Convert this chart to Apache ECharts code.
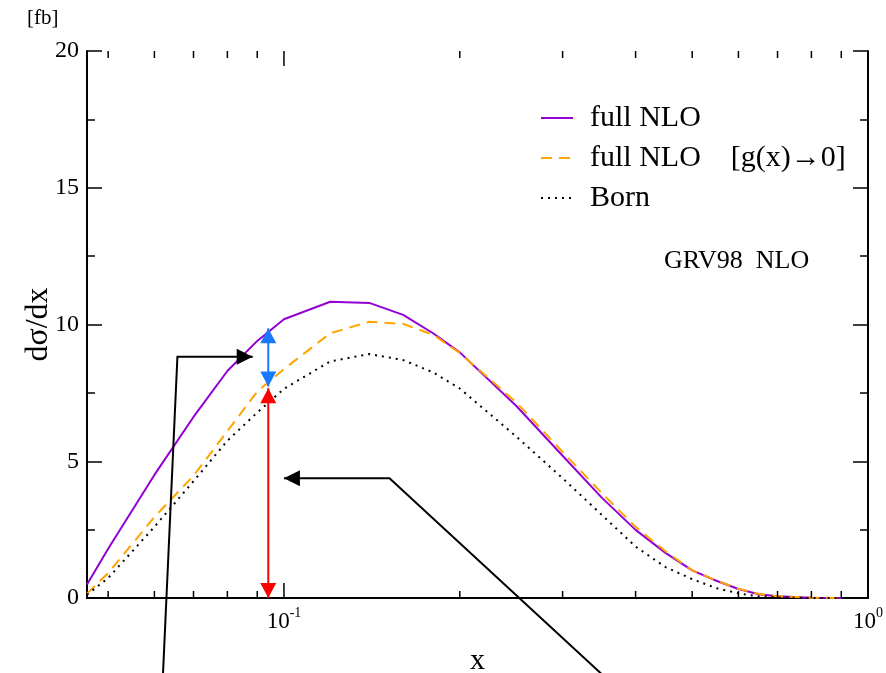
<!DOCTYPE html>
<html>
<head>
<meta charset="utf-8">
<script src="https://cdn.jsdelivr.net/npm/echarts@6/dist/echarts.min.js"></script>
<style>
  html, body { margin: 0; padding: 0; background: #fff; }
  #chart { width: 886px; height: 673px; }
</style>
</head>
<body>
<div id="chart"></div>
<script>
// Momentum fraction x (log scale) and dσ/dx [fb] for the three calculations
const xValues  = [0.046, 0.05, 0.06, 0.07, 0.08, 0.09, 0.1, 0.12, 0.14, 0.16, 0.18, 0.2, 0.25, 0.3, 0.35, 0.4, 0.45, 0.5, 0.55, 0.6, 0.65, 0.7, 0.8, 0.9];
const fullNLO  = [0.49, 1.80, 4.50, 6.62, 8.30, 9.40, 10.19, 10.83, 10.79, 10.35, 9.68, 8.98, 7.02, 5.20, 3.67, 2.49, 1.65, 1.01, 0.63, 0.33, 0.14, 0.06, 0.01, 0.00];
const gluonOff = [0.16, 0.91, 2.96, 4.47, 6.10, 7.55, 8.37, 9.68, 10.10, 10.02, 9.63, 8.96, 7.15, 5.34, 3.84, 2.60, 1.71, 1.01, 0.64, 0.34, 0.15, 0.06, 0.01, 0.00];
const born     = [0.12, 0.73, 2.60, 4.27, 5.75, 6.78, 7.65, 8.65, 8.92, 8.70, 8.25, 7.66, 5.90, 4.38, 3.04, 1.88, 1.13, 0.69, 0.36, 0.17, 0.06, 0.02, 0.00, 0.00];

const seriesNames = ['full NLO', 'full NLO    [g(x)\u21920]', 'Born'];

// x-axis tick positions
const xMajorTicks = [0.1, 1];
const xMinorTicks = [0.05, 0.06, 0.07, 0.08, 0.09, 0.2, 0.3, 0.4, 0.5, 0.6, 0.7, 0.8, 0.9];
const xTickLabels = { '0.1': '-1', '1': '0' };

// annotation arrows, in data coordinates (x, dσ/dx)
const gapArrow   = [[0.094, 9.86], [0.094, 7.73]];
const bornArrow  = [[0.094, 7.67], [0.094, 0.0]];
const pointerUp  = [[0.062, -3.0], [0.0657, 8.82], [0.0884, 8.82]];
const pointerMid = [[0.359, -3.0], [0.1516, 4.38], [0.1, 4.38]];

const SERIF = "'Liberation Serif', 'Times New Roman', serif";
const X_MIN = 0.046, X_MAX = 1, Y_MIN = 0, Y_MAX = 20;

function pairs(ys) { return xValues.map((x, i) => [x, ys[i]]); }

function arrowRenderer(points, color, heads, headLen, headHalf) {
  return function (params, api) {
    const px = points.map(p => api.coord(p));
    const children = [{
      type: 'polyline',
      shape: { points: px },
      style: { stroke: color, lineWidth: 2, fill: null }
    }];
    heads.forEach(h => {
      const tip = h === 'end' ? px[px.length - 1] : px[0];
      const prev = h === 'end' ? px[px.length - 2] : px[1];
      const dx = tip[0] - prev[0], dy = tip[1] - prev[1];
      const len = Math.hypot(dx, dy);
      const ux = dx / len, uy = dy / len;
      const bx = tip[0] - ux * headLen, by = tip[1] - uy * headLen;
      children.push({
        type: 'polygon',
        shape: { points: [tip, [bx - uy * headHalf, by + ux * headHalf], [bx + uy * headHalf, by - ux * headHalf]] },
        style: { fill: color }
      });
    });
    return { type: 'group', children };
  };
}

function arrowSeries(points, color, heads, headLen, headHalf) {
  return {
    type: 'custom',
    clip: false,
    silent: true,
    z: 5,
    data: [points[0]],
    renderItem: arrowRenderer(points, color, heads, headLen, headHalf)
  };
}

const tickSeries = {
  type: 'custom',
  clip: false,
  silent: true,
  z: 6,
  data: xMajorTicks.concat(xMinorTicks).map(v => [v, Y_MIN]),
  renderItem: function (params, api) {
    const v = api.value(0);
    const len = xMajorTicks.indexOf(v) >= 0 ? 15 : 7;
    const b = api.coord([v, Y_MIN]);
    const t = api.coord([v, Y_MAX]);
    const st = { stroke: '#000', lineWidth: 1.5 };
    return {
      type: 'group',
      children: [
        { type: 'line', shape: { x1: b[0], y1: b[1], x2: b[0], y2: b[1] - len }, style: st },
        { type: 'line', shape: { x1: t[0], y1: t[1], x2: t[0], y2: t[1] + len }, style: st }
      ]
    };
  }
};

const chart = echarts.init(document.getElementById('chart'), null, { renderer: 'canvas' });

const frameLine = { show: true, lineStyle: { color: '#000', width: 2 } };

chart.setOption({
  animation: false,
  backgroundColor: '#fff',
  textStyle: { fontFamily: SERIF },
  grid: { left: 87, right: 18, top: 51, bottom: 75, containLabel: false, outerBoundsMode: 'none' },
  legend: {
    orient: 'vertical',
    left: 535,
    top: 98,
    itemWidth: 32,
    itemHeight: 14,
    itemGap: 10,
    data: seriesNames,
    itemStyle: { opacity: 0 },
    textStyle: { fontFamily: SERIF, fontSize: 30, color: '#000', padding: [0, 0, 0, 12] },
    selectedMode: false
  },
  xAxis: [{
    type: 'log',
    logBase: 10,
    min: X_MIN,
    max: X_MAX,
    position: 'bottom',
    axisLine: frameLine,
    axisTick: { show: false },
    minorTick: { show: false },
    splitLine: { show: false },
    name: 'x',
    nameLocation: 'middle',
    nameGap: 48,
    nameMoveOverlap: false,
    nameTextStyle: { fontFamily: SERIF, fontSize: 30, color: '#000' },
    axisLabel: {
      margin: 8,
      showMinLabel: false,
      formatter: function (v) {
        const key = String(+v.toPrecision(6));
        return xTickLabels[key] !== undefined ? '{b|10}{s|' + xTickLabels[key] + '}' : '';
      },
      rich: {
        b: { fontFamily: SERIF, fontSize: 23, color: '#000', lineHeight: 27, verticalAlign: 'bottom' },
        s: { fontFamily: SERIF, fontSize: 14, color: '#000', lineHeight: 14, verticalAlign: 'top' }
      }
    }
  }, {
    type: 'log',
    logBase: 10,
    min: X_MIN,
    max: X_MAX,
    position: 'top',
    axisLine: frameLine,
    axisTick: { show: false },
    axisLabel: { show: false },
    splitLine: { show: false }
  }],
  yAxis: [{
    type: 'value',
    min: Y_MIN,
    max: Y_MAX,
    interval: 5,
    position: 'left',
    axisLine: frameLine,
    axisTick: { show: true, inside: true, length: 15, lineStyle: { color: '#000', width: 1.5 } },
    minorTick: { show: true, splitNumber: 2, length: 8, lineStyle: { color: '#000', width: 1.5 } },
    splitLine: { show: false },
    axisLabel: { margin: 8, fontFamily: SERIF, fontSize: 24, color: '#000' },
    name: 'd\u03c3/dx',
    nameLocation: 'middle',
    nameRotate: 90,
    nameGap: 32,
    nameMoveOverlap: false,
    nameTextStyle: { fontFamily: SERIF, fontSize: 32, color: '#000' }
  }, {
    type: 'value',
    min: Y_MIN,
    max: Y_MAX,
    interval: 5,
    position: 'right',
    axisLine: frameLine,
    axisTick: { show: true, inside: true, length: 15, lineStyle: { color: '#000', width: 1.5 } },
    minorTick: { show: true, splitNumber: 2, length: 8, lineStyle: { color: '#000', width: 1.5 } },
    splitLine: { show: false },
    axisLabel: { show: false }
  }],
  graphic: [
    { type: 'text', left: 27, top: 8, style: { text: '[fb]', font: '21px ' + SERIF, fill: '#000' } },
    { type: 'text', left: 664, top: 248, style: { text: 'GRV98  NLO', font: '26px ' + SERIF, fill: '#000' } }
  ],
  series: [
    {
      name: seriesNames[0], type: 'line', data: pairs(fullNLO),
      symbol: 'none', smooth: false, z: 3,
      lineStyle: { color: '#9400d3', width: 2 }, itemStyle: { color: '#9400d3' }
    },
    {
      name: seriesNames[1], type: 'line', data: pairs(gluonOff),
      symbol: 'none', smooth: false, z: 3,
      lineStyle: { color: '#ffa500', width: 2, type: [11, 7] }, itemStyle: { color: '#ffa500' }
    },
    {
      name: seriesNames[2], type: 'line', data: pairs(born),
      symbol: 'none', smooth: false, z: 3,
      lineStyle: { color: '#000', width: 2, type: [2, 5] }, itemStyle: { color: '#000' }
    },
    tickSeries,
    arrowSeries(gapArrow, '#1a78ff', ['start', 'end'], 15, 8),
    arrowSeries(bornArrow, '#ff0000', ['start', 'end'], 15, 8),
    arrowSeries(pointerUp, '#000', ['end'], 16, 8),
    arrowSeries(pointerMid, '#000', ['end'], 16, 8)
  ]
});
</script>
</body>
</html>
